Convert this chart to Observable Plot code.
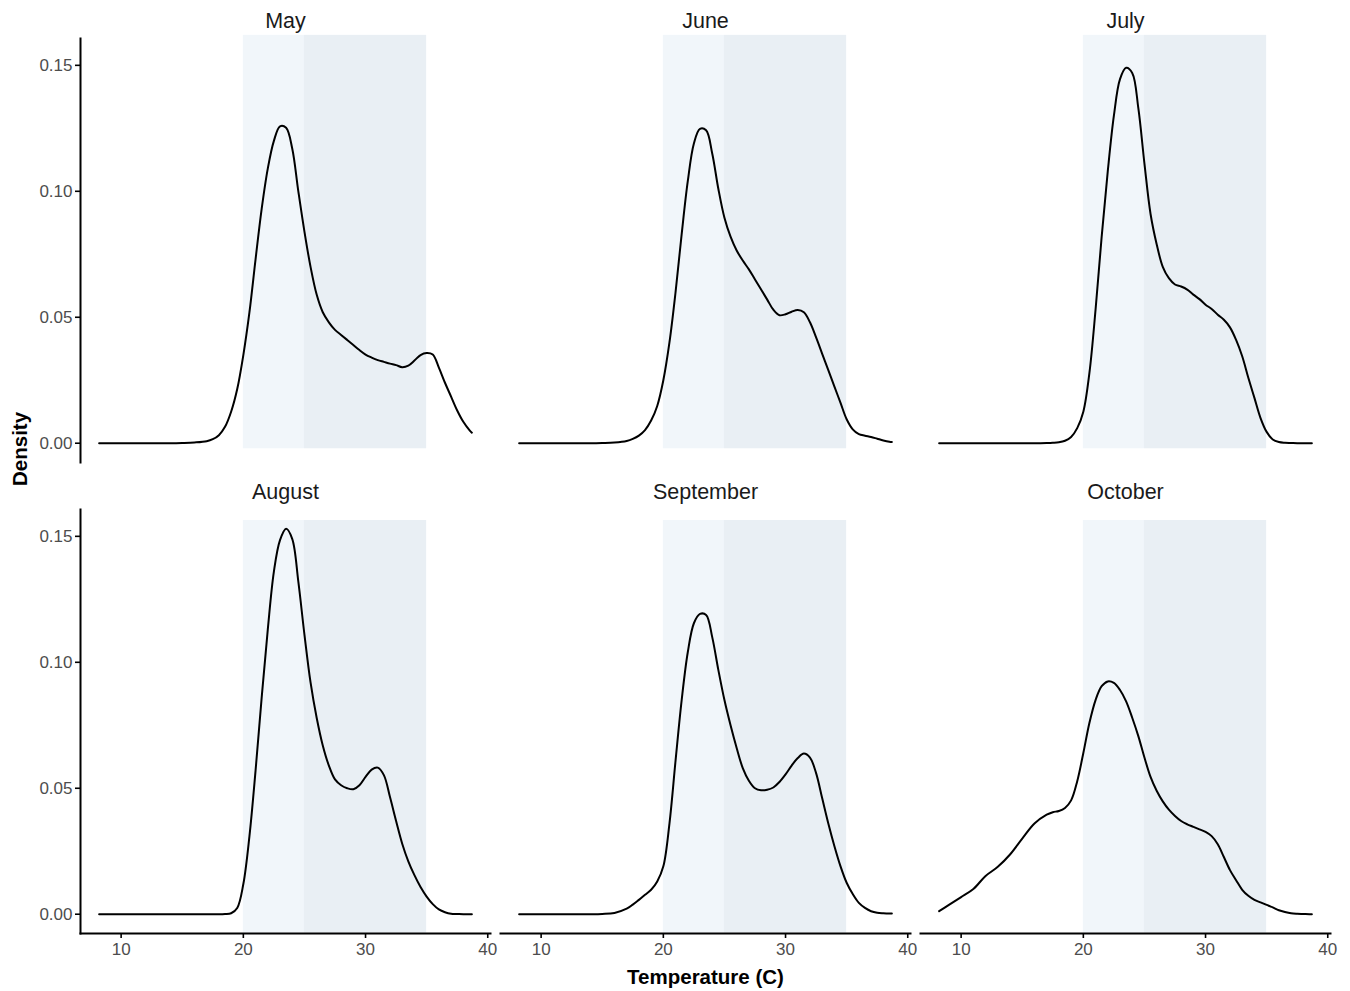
<!DOCTYPE html>
<html>
<head>
<meta charset="utf-8">
<script src="https://cdn.jsdelivr.net/npm/d3@7"></script>
<script src="https://cdn.jsdelivr.net/npm/@observablehq/plot@0.6"></script>
<style>
  html, body { margin: 0; padding: 0; background: #ffffff; }
  #chart { width: 1350px; height: 991px; }
</style>
</head>
<body>
<div id="chart"></div>
<script>
// ---- Data ----
const months = ["May", "June", "July", "August", "September", "October"];

const temps = [8.2, 9, 10, 11, 12, 13, 14, 15, 16,
  17, 17.5, 18, 18.5, 19, 19.5, 20, 20.5, 21, 21.5, 22, 22.5, 23, 23.5, 24, 24.5,
  25, 25.5, 26, 26.5, 27, 27.5, 28, 28.5, 29, 29.5, 30, 30.5, 31, 31.5, 32, 32.5,
  33, 33.5, 34, 34.5, 35, 35.5, 36, 36.5, 37, 37.5, 38, 38.5, 38.7];

const mayDensity = [0, 0, 0, 0, 0, 0, 0, 0.0001, 0.0003,
  0.0008, 0.0016, 0.0032, 0.0065, 0.0125, 0.0215, 0.035, 0.052, 0.073, 0.093, 0.109, 0.120, 0.1258, 0.1252, 0.117, 0.100,
  0.084, 0.070, 0.059, 0.052, 0.048, 0.045, 0.043, 0.041, 0.039, 0.037, 0.0352, 0.034, 0.033, 0.0323, 0.0316, 0.031,
  0.0302, 0.0308, 0.0328, 0.035, 0.0358, 0.0352, 0.030, 0.024, 0.0185, 0.013, 0.0085, 0.0052, 0.0042];

const juneDensity = [0, 0, 0, 0, 0, 0, 0, 0.0001, 0.0003,
  0.0009, 0.0017, 0.003, 0.0052, 0.009, 0.0148, 0.025, 0.040, 0.060, 0.083, 0.104, 0.119, 0.1248, 0.1242, 0.115, 0.101,
  0.0895, 0.082, 0.0765, 0.0725, 0.069, 0.065, 0.061, 0.057, 0.053, 0.0508, 0.0512, 0.0522, 0.0529, 0.052, 0.048, 0.042,
  0.0355, 0.029, 0.0225, 0.016, 0.0095, 0.0055, 0.0036, 0.003, 0.0025, 0.0018, 0.0011, 0.0006, 0.0005];

const julyDensity = [0, 0, 0, 0, 0, 0, 0, 0, 0,
  0.0001, 0.0002, 0.0004, 0.001, 0.0025, 0.006, 0.0125, 0.028, 0.053, 0.082, 0.108, 0.130, 0.1445, 0.149, 0.147, 0.133,
  0.111, 0.091, 0.079, 0.070, 0.0655, 0.063, 0.0622, 0.061, 0.059, 0.0572, 0.055, 0.0533, 0.051, 0.049, 0.046, 0.041,
  0.0345, 0.026, 0.018, 0.010, 0.0045, 0.0015, 0.0005, 0.0002, 0.0001, 0, 0, 0, 0];

const augustDensity = [0, 0, 0, 0, 0, 0, 0, 0, 0,
  0, 0, 0, 0.0001, 0.0004, 0.0025, 0.012, 0.031, 0.057, 0.086, 0.113, 0.136, 0.1485, 0.153, 0.149, 0.132,
  0.111, 0.092, 0.078, 0.067, 0.059, 0.0535, 0.0512, 0.050, 0.0496, 0.0512, 0.0545, 0.0574, 0.0582, 0.0552, 0.0465, 0.037,
  0.028, 0.021, 0.0155, 0.0108, 0.007, 0.004, 0.0019, 0.0008, 0.0002, 0.0001, 0, 0, 0];

const septemberDensity = [0, 0, 0, 0, 0, 0, 0, 0.0001, 0.0005,
  0.0022, 0.0038, 0.0057, 0.0077, 0.0097, 0.013, 0.019, 0.036, 0.061, 0.085, 0.104, 0.1155, 0.1192, 0.1188, 0.110, 0.097,
  0.085, 0.075, 0.066, 0.058, 0.053, 0.050, 0.0492, 0.0494, 0.0503, 0.0525, 0.0555, 0.059, 0.062, 0.0638, 0.0622, 0.056,
  0.046, 0.036, 0.027, 0.019, 0.0125, 0.008, 0.0045, 0.0025, 0.0012, 0.0006, 0.0004, 0.0003, 0.0003];

const octoberDensity = [0.0012, 0.0037, 0.0068, 0.010, 0.0152, 0.0188, 0.0237, 0.030, 0.036,
  0.0395, 0.0405, 0.041, 0.0422, 0.0452, 0.0528, 0.064, 0.076, 0.085, 0.0905, 0.0924, 0.0918, 0.089, 0.0845, 0.078, 0.0707,
  0.0622, 0.0545, 0.049, 0.0448, 0.0415, 0.039, 0.037, 0.0357, 0.0347, 0.0337, 0.0327, 0.031, 0.0278, 0.0227, 0.0175, 0.0135,
  0.0097, 0.0073, 0.0057, 0.0047, 0.0037, 0.0027, 0.0016, 0.0009, 0.0004, 0.0002, 0.0001, 0, 0];

const densities = [mayDensity, juneDensity, julyDensity, augustDensity, septemberDensity, octoberDensity];

// Shaded temperature bands (°C) and their vertical extent per facet row
const coolBand = [20, 25];
const warmBand = [25, 35];
const bandTop = [0.1619, 0.1563];
const bandBottom = [-0.0022, -0.0075];

const xTicks = [10, 20, 30, 40];
const yTicks = [0, 0.05, 0.10, 0.15];

// ---- Build tables ----
const panels = months.map((m, i) => ({month: m, col: i % 3, row: Math.floor(i / 3)}));
const curves = panels.flatMap((p, i) =>
  temps.map((t, j) => ({month: p.month, col: p.col, row: p.row, t, d: densities[i][j]})));
const coolRects = panels.map(p => ({col: p.col, row: p.row, x1: coolBand[0], x2: coolBand[1], y1: bandBottom[p.row], y2: bandTop[p.row]}));
const warmRects = panels.map(p => ({col: p.col, row: p.row, x1: warmBand[0], x2: warmBand[1], y1: bandBottom[p.row], y2: bandTop[p.row]}));

const font = "'Liberation Sans', Arial, Helvetica, sans-serif";

const chart = Plot.plot({
  width: 1350,
  height: 991,
  marginTop: 38,
  marginBottom: 58,
  marginLeft: 80,
  marginRight: 20,
  style: {fontFamily: font, background: "#ffffff", color: "#000"},
  fx: {domain: [0, 1, 2], paddingInner: 10 / 420, paddingOuter: 0, axis: null},
  fy: {domain: [0, 1], paddingInner: 0.0998, paddingOuter: 0, axis: null},
  x: {domain: [6.675, 40.225], axis: null},
  y: {domain: [-0.00765, 0.16065], axis: null},
  marks: [
    Plot.rect(coolRects, {x1: "x1", x2: "x2", y1: "y1", y2: "y2", fx: "col", fy: "row", fill: "#f1f6fa"}),
    Plot.rect(warmRects, {x1: "x1", x2: "x2", y1: "y1", y2: "y2", fx: "col", fy: "row", fill: "#e9eff4"}),
    Plot.line(curves, {x: "t", y: "d", z: "month", fx: "col", fy: "row",
      stroke: "#000", strokeWidth: 2, curve: "catmull-rom"}),
    Plot.frame({anchor: "left", facetAnchor: "left", stroke: "#000", strokeWidth: 2}),
    Plot.frame({anchor: "bottom", facetAnchor: "bottom", stroke: "#000", strokeWidth: 2}),
    Plot.axisX({ticks: xTicks, tickSize: 5, tickPadding: 4, facetAnchor: "bottom",
      stroke: "#000", strokeWidth: 1.6, fill: "#4d4d4d", fontSize: 17, label: null,
      tickFormat: d3.format("d")}),
    Plot.axisY({ticks: yTicks, tickSize: 5, tickPadding: 3, facetAnchor: "left",
      stroke: "#000", strokeWidth: 1.6, fill: "#4d4d4d", fontSize: 17, label: null,
      tickFormat: d3.format(".2f")}),
    Plot.text(panels, {fx: "col", fy: "row", text: "month", frameAnchor: "top", dy: -10.5,
      lineAnchor: "bottom", fontSize: 21.5, fill: "#1a1a1a"}),
    Plot.text(["Temperature (C)"], {facet: "super", frameAnchor: "bottom", dy: 44,
      lineAnchor: "middle", fontSize: 20.5, fontWeight: "bold", fill: "#000"}),
    Plot.text(["Density"], {facet: "super", frameAnchor: "left", dx: -60, rotate: -90,
      lineAnchor: "middle", fontSize: 20.5, fontWeight: "bold", fill: "#000"})
  ]
});

document.getElementById("chart").appendChild(chart);
</script>
</body>
</html>
